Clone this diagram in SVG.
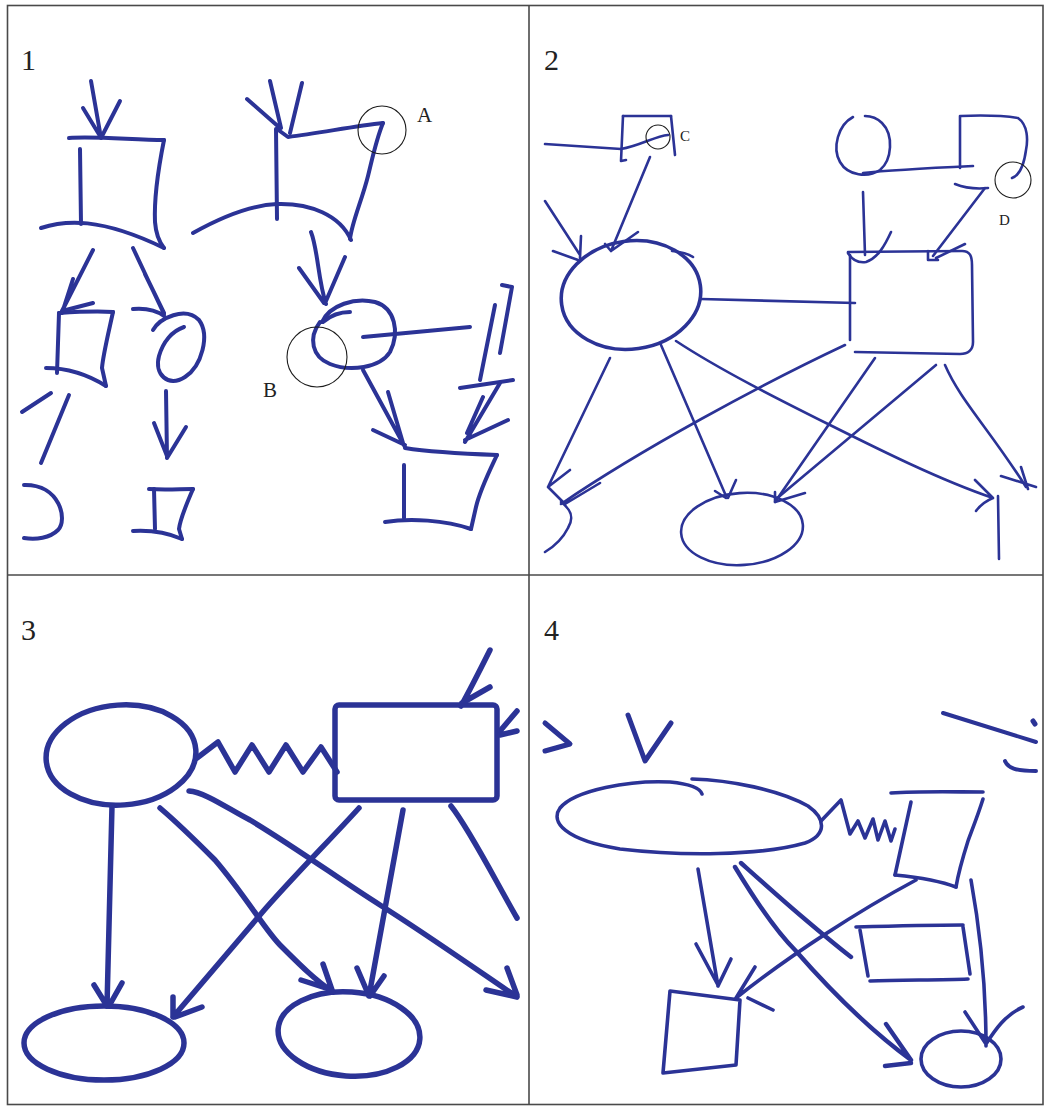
<svg xmlns="http://www.w3.org/2000/svg" width="1046" height="1108" viewBox="0 0 1046 1108">
  <style>
    .ink { fill: none; stroke: #2b3396; stroke-linecap: round; stroke-linejoin: round; }
    .p1 { stroke-width: 4; }
    .p2 { stroke-width: 2.6; }
    .p3 { stroke-width: 5.5; }
    .p4 { stroke-width: 3.6; }
    .mark { fill: none; stroke: #1c1c1c; stroke-width: 1.1; }
    .num { font-family: "Liberation Serif", "DejaVu Serif", serif; font-size: 30px; fill: #222; }
    .tag { font-family: "Liberation Serif", "DejaVu Serif", serif; fill: #222; }
  </style>

  <rect x="0" y="0" width="1046" height="1108" fill="#ffffff"/>

  <!-- frame and quadrant dividers -->
  <g id="frame" fill="none" stroke="#4a4a4a" stroke-width="1.6">
    <rect x="7.5" y="5.5" width="1035.5" height="1099"/>
    <line x1="529" y1="5.5" x2="529" y2="1104.5"/>
    <line x1="7.5" y1="575" x2="1043" y2="575"/>
  </g>

  <!-- ===== quadrant 1 ===== -->
  <g id="panel1">
    <text class="num" x="21" y="70">1</text>
    <g id="p1-nodes" class="ink p1">
      <g id="p1-box-left">
        <path d="M69,138 C95,136 135,140 164,140"/>
        <path d="M80,149 L81,224"/>
        <path d="M164,140 C158,170 154,200 155,222 C156,235 160,243 164,248"/>
        <path d="M41,228 C65,220 100,217 164,248"/>
      </g>
      <g id="p1-box-small">
        <path d="M59,313 C75,312 95,311 113,312"/>
        <path d="M59,313 L57,373"/>
        <path d="M113,312 C108,335 103,355 102,368 L106,386"/>
        <path d="M46,368 C70,368 90,376 106,386"/>
      </g>
      <g id="p1-loop">
        <path d="M153,330 C160,318 185,306 199,320 C210,335 202,366 185,377 C168,388 154,374 159,356 C163,342 172,331 184,327"/>
      </g>
      <g id="p1-box-tiny">
        <path d="M149,489 C165,490 180,489 193,489"/>
        <path d="M154,489 L155,529"/>
        <path d="M193,489 C186,505 180,520 179,529 L182,539"/>
        <path d="M133,531 C150,530 168,533 182,539"/>
      </g>
      <g id="p1-cut-left">
        <path d="M24,485 C60,484 68,520 58,530 C50,538 36,540 24,538"/>
      </g>
      <g id="p1-box-right">
        <path d="M277,129 L288,137 C320,133 355,126 383,123"/>
        <path d="M383,123 C376,140 372,160 368,176 C362,200 352,222 350,239"/>
        <path d="M276,129 L277,219"/>
        <path d="M193,233 C225,215 255,205 277,204 C310,203 340,215 351,240"/>
      </g>
      <g id="p1-ellipse">
        <path d="M322,322 C330,305 355,297 375,302 C395,308 400,332 390,352 C380,368 350,372 330,364 C312,357 308,338 320,322"/>
        <path d="M350,312 C340,312 330,316 323,322"/>
      </g>
      <g id="p1-box-bottom">
        <path d="M405,448 C430,452 470,454 497,455"/>
        <path d="M404,465 L404,518"/>
        <path d="M497,455 C490,470 480,490 476,507 L471,529"/>
        <path d="M385,522 C410,518 445,520 471,529"/>
      </g>
    </g>
    <g id="p1-connectors" class="ink p1">
      <path d="M91,81 L101,138 M83,108 L100,136 M120,101 L101,138"/>
      <path d="M93,250 L62,311 M73,279 L62,313 M93,303 L62,311"/>
      <path d="M133,248 L164,314 M145,274 L164,313 M133,309 C145,308 156,310 164,316"/>
      <path d="M166,391 L167,458 M154,423 L167,456 M186,427 L167,458"/>
      <path d="M22,412 L51,393"/>
      <path d="M69,395 L41,463"/>
      <path d="M270,81 L281,128 M302,83 L290,133 M247,99 L280,128"/>
      <path d="M311,232 C318,250 318,280 326,304 M299,268 L324,303 M345,257 L326,301"/>
      <path d="M363,337 L470,327"/>
      <path d="M363,370 L405,447 M388,392 L403,443 M373,430 L405,445"/>
      <path d="M502,285 L512,287 L500,353"/>
      <path d="M495,305 L480,380"/>
      <path d="M460,388 L513,380"/>
      <path d="M500,383 L465,442 M508,420 L465,440 M483,397 L467,433"/>
    </g>
    <g id="p1-marks">
      <circle class="mark" cx="382" cy="130" r="24"/>
      <text class="tag" x="417" y="122" font-size="21">A</text>
      <circle class="mark" cx="317" cy="357" r="30"/>
      <text class="tag" x="263" y="397" font-size="21">B</text>
    </g>
  </g>

  <!-- ===== quadrant 2 ===== -->
  <g id="panel2">
    <text class="num" x="544" y="70">2</text>
    <g id="p2-nodes" class="ink p2">
      <g id="p2-box-top-left">
        <path d="M623,116 L671,116"/>
        <path d="M623,116 L621,161 L626,160"/>
        <path d="M671,116 L675,155"/>
        <path d="M621,149 C640,146 655,136 668,135"/>
      </g>
      <g id="p2-ellipse-big">
        <ellipse stroke-width="3.6" cx="631" cy="295" rx="70" ry="54" transform="rotate(-8 631 295)"/>
        <path d="M672,251 C682,252 690,255 693,257"/>
      </g>
      <g id="p2-rect">
        <path d="M850,255 L850,340"/>
        <path d="M848,252 L962,251 C970,251 972,256 972,265 L973,342 C973,350 968,354 960,354 L855,352"/>
      </g>
      <g id="p2-circle">
        <path d="M853,117 C838,125 832,148 840,162 C848,176 868,178 880,170 C892,160 894,135 882,123 C876,117 870,116 865,116"/>
      </g>
      <g id="p2-d-shape">
        <path d="M961,116 C985,115 1005,116 1018,118 C1028,125 1028,140 1026,150 C1024,165 1020,175 1012,178"/>
        <path d="M960,116 L960,168"/>
        <path d="M955,184 C965,188 978,189 988,188"/>
      </g>
      <g id="p2-ellipse-bottom">
        <ellipse cx="742" cy="529" rx="61" ry="36" transform="rotate(-4 742 529)"/>
      </g>
      <g id="p2-cut">
        <path d="M561,502 C572,510 574,518 568,528 C563,538 555,546 545,552"/>
        <path d="M998,496 L999,559"/>
      </g>
    </g>
    <g id="p2-connectors" class="ink p2">
      <path d="M545,144 L621,149"/>
      <path d="M650,157 L611,251 M605,244 L611,251 M638,232 L611,251"/>
      <path d="M545,201 L580,255 M553,251 L578,260 M581,236 L580,258"/>
      <path d="M701,299 L855,303"/>
      <path d="M863,173 C890,170 930,168 973,166"/>
      <path d="M863,192 L865,255 M848,253 C852,260 858,263 866,262 C878,258 885,245 891,232"/>
      <path d="M985,188 L933,256 M928,251 L928,260 L938,260 M965,244 L936,258"/>
      <path d="M610,358 L548,487 M548,487 L570,470 M548,487 L565,504"/>
      <path d="M661,345 L726,496 M715,491 L726,498 M736,480 L728,498"/>
      <path d="M676,341 C720,370 780,400 828,424 C880,450 940,480 993,498 M975,480 L993,498 M976,511 C982,503 988,500 993,498"/>
      <path d="M845,345 C760,385 640,450 561,504 M565,504 L600,483"/>
      <path d="M875,358 L775,502"/>
      <path d="M936,365 L775,500 M775,502 L805,493 M775,502 L775,492"/>
      <path d="M945,365 C960,400 990,430 1026,487 M1021,467 L1028,489 M1001,476 L1036,487"/>
    </g>
    <g id="p2-marks">
      <circle class="mark" cx="658" cy="137" r="12"/>
      <text class="tag" x="680" y="141" font-size="15">C</text>
      <circle class="mark" cx="1013" cy="180" r="18"/>
      <text class="tag" x="999" y="225" font-size="15">D</text>
    </g>
  </g>

  <!-- ===== quadrant 3 ===== -->
  <g id="panel3">
    <text class="num" x="21" y="640">3</text>
    <g id="p3-nodes" class="ink p3">
      <g id="p3-ellipse-top">
        <ellipse cx="121" cy="755" rx="75" ry="50" transform="rotate(-4 121 755)"/>
      </g>
      <g id="p3-rect">
        <rect x="335" y="705" width="162" height="95" rx="4"/>
      </g>
      <g id="p3-ellipse-left">
        <ellipse cx="104" cy="1043" rx="80" ry="37"/>
      </g>
      <g id="p3-ellipse-mid">
        <ellipse cx="349" cy="1034" rx="71" ry="42" transform="rotate(4 349 1034)"/>
      </g>
    </g>
    <g id="p3-connectors" class="ink p3">
      <path d="M197,758 L218,742 L235,772 L252,745 L269,772 L286,745 L303,772 L321,747 L337,772"/>
      <path d="M490,650 C480,670 470,690 461,706 M490,687 L462,703"/>
      <path d="M517,711 L500,731 M517,731 L500,735"/>
      <path d="M112,806 L107,1006 M94,985 L107,1006 M122,983 L109,1006"/>
      <path d="M160,808 C180,825 200,845 215,860 C245,895 265,930 280,945 C300,965 315,980 333,992 M301,980 L332,990 M323,964 L332,990"/>
      <path d="M189,791 C205,792 230,810 250,820 C300,850 340,880 380,905 C420,930 470,965 517,997 M486,990 L517,997 M507,968 L517,995"/>
      <path d="M359,808 C330,840 290,880 260,915 C230,950 200,985 173,1017 M173,997 L173,1017 M202,1007 L175,1017"/>
      <path d="M403,810 L369,996 M357,968 L369,996 M384,976 L370,996"/>
      <path d="M451,806 C470,830 495,880 517,918"/>
    </g>
  </g>

  <!-- ===== quadrant 4 ===== -->
  <g id="panel4">
    <text class="num" x="544" y="640">4</text>
    <g id="p4-nodes" class="ink p4">
      <g id="p4-ellipse-wide">
        <path d="M702,794 C700,788 690,784 670,782 C630,780 575,790 560,808 C550,822 565,840 620,849 C680,856 760,856 805,843 C828,834 825,818 808,806 C780,790 730,780 692,779"/>
      </g>
      <g id="p4-box-top">
        <path d="M891,793 C920,791 955,792 983,792"/>
        <path d="M911,802 L895,875"/>
        <path d="M983,799 C978,815 972,830 968,841 C962,860 958,875 956,887"/>
        <path d="M895,875 C915,877 938,880 956,887"/>
      </g>
      <g id="p4-box-mid">
        <path d="M856,927 C890,926 930,925 963,925"/>
        <path d="M860,930 L868,976"/>
        <path d="M963,927 L970,974"/>
        <path d="M870,981 C900,980 940,980 968,979"/>
      </g>
      <g id="p4-box-bottom">
        <path d="M670,991 L740,1000 L736,1065 L663,1073 Z"/>
      </g>
      <g id="p4-ellipse-small">
        <ellipse cx="961" cy="1059" rx="40" ry="28"/>
      </g>
    </g>
    <g id="p4-connectors" class="ink p4">
      <path stroke-width="5" d="M545,723 L570,744 L545,751"/>
      <path stroke-width="5" d="M628,715 L645,761 L671,723"/>
      <path stroke-width="4" d="M943,713 L1036,742"/>
      <path stroke-width="5" d="M1033,721 L1035,724"/>
      <path stroke-width="4" d="M1005,761 C1008,768 1015,771 1036,771"/>
      <path d="M821,821 L841,800 L850,834 L858,821 L865,838 L873,819 L878,840 L885,821 L891,841 L895,829"/>
      <path d="M698,869 L718,986 M696,944 L718,985 M731,959 L718,986"/>
      <path d="M916,880 C860,910 790,955 736,998 M755,967 L736,998 M773,1010 L748,998"/>
      <path stroke-width="4.4" d="M735,867 C755,900 775,930 795,950 C830,990 870,1030 911,1060 M886,1024 L911,1060 M885,1066 L911,1063"/>
      <path stroke-width="4.4" d="M741,863 C760,880 780,898 800,915 C820,932 838,947 851,957"/>
      <path d="M971,880 C980,930 986,990 986,1046 M965,1012 L986,1044 M1023,1007 C1005,1015 995,1030 986,1044"/>
    </g>
  </g>
</svg>
